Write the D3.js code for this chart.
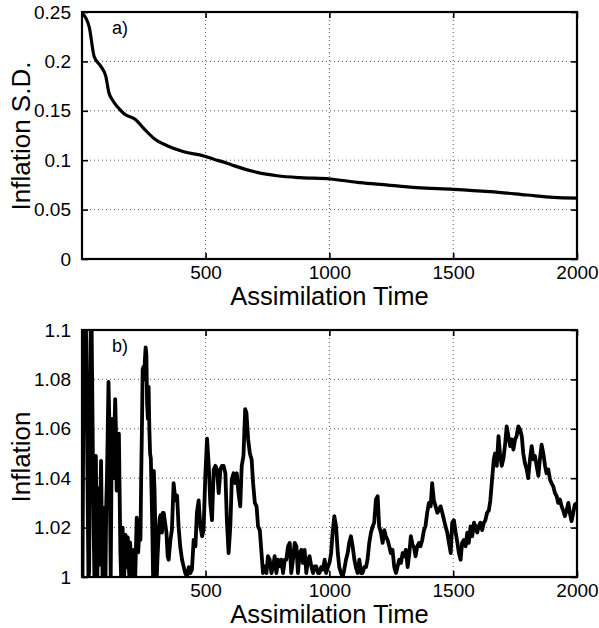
<!DOCTYPE html>
<html>
<head>
<meta charset="utf-8">
<script src="https://cdn.jsdelivr.net/npm/d3@7/dist/d3.min.js"></script>
<style>
  html, body { margin: 0; padding: 0; background: #fff; }
  svg { display: block; }
  text { font-family: "Liberation Sans", Arial, Helvetica, sans-serif; fill: #000; }
</style>
</head>
<body>
<svg id="chart" width="599" height="628"></svg>
<script>
// ---------- DATA ----------
// Panel a) Inflation S.D. vs assimilation time
const sdTime  = [1, 30, 50, 77, 97, 110, 124, 144, 171, 218, 251, 292, 345, 412, 493, 533, 587, 614, 708, 789, 883, 1004, 1112, 1206, 1354, 1501, 1649, 1797, 1904, 2000];
const sdValue = [0.249, 0.235, 0.205, 0.195, 0.185, 0.168, 0.161, 0.154, 0.147, 0.141, 0.132, 0.122, 0.1147, 0.1086, 0.1043, 0.101, 0.097, 0.0945, 0.0877, 0.0843, 0.0823, 0.081, 0.0776, 0.0756, 0.0722, 0.0705, 0.0681, 0.0648, 0.0624, 0.0616];

// Panel b) Inflation vs assimilation time
const infTime = [
  1, 3, 6, 9, 12, 15, 18, 21, 24, 27, 30, 33, 36, 39, 42, 45, 48, 51, 54, 57, 60, 63, 66, 69, 72, 75, 78, 81, 84, 87, 90, 93, 96, 99,
  102, 105, 108, 111, 114, 117, 120, 123, 126, 129, 132, 135, 138, 141, 144, 147, 150, 153, 156, 159, 162, 165, 168, 171, 174, 177,
  180, 183, 186, 189, 192, 195, 198, 201, 204, 207, 210, 213, 216, 219, 222, 225, 228, 231, 234, 237, 240, 243, 246, 249, 252, 255,
  258, 261, 264, 267, 270, 273, 276, 279, 282, 285, 288, 291, 294, 297, 300, 303, 306, 309, 312, 315, 318, 321, 324, 327,
  331, 342, 347, 351, 358, 364, 371, 378, 385, 391, 398, 405, 412, 418, 425, 432, 438, 445, 452, 459, 465, 472, 479, 486, 492, 499,
  506, 513, 519, 526, 533, 540, 546, 553, 560, 566, 573, 580, 586, 593, 600, 606, 613, 620, 626, 633, 640, 646, 653, 660,
  665, 672, 679, 686, 692, 699, 706, 712, 719, 726, 732, 739, 746, 752, 759, 766, 773, 779, 786, 793, 800, 806, 813, 820, 826, 833,
  840, 846, 853, 860, 867, 873, 880, 887, 893, 900, 907, 913, 920, 927, 934, 940, 947, 954, 960, 967, 974, 981, 987, 994,
  1001, 1007, 1013, 1020, 1027, 1034, 1040, 1047, 1054, 1060, 1067, 1074, 1080, 1087, 1094, 1101, 1107, 1114, 1121, 1128, 1134, 1141,
  1148, 1154, 1161, 1168, 1175, 1181, 1188, 1195, 1201, 1208, 1215, 1222, 1228, 1235, 1242, 1248, 1255, 1262, 1269, 1275, 1282, 1289,
  1296, 1302, 1309, 1316, 1323, 1329,
  1336, 1342, 1348, 1355, 1362, 1368, 1375, 1382, 1388, 1395, 1402, 1409, 1415, 1422, 1429, 1436, 1442, 1449, 1456, 1463, 1469, 1476,
  1483, 1490, 1496, 1503, 1510, 1517, 1523, 1530, 1536, 1543, 1550, 1557, 1563, 1570, 1577, 1584, 1590, 1597, 1603, 1610, 1617, 1624,
  1630, 1637, 1644, 1650, 1657, 1664,
  1669, 1676, 1683, 1689, 1696, 1703, 1710, 1716, 1723, 1730, 1736, 1743, 1750, 1756, 1763, 1770, 1777, 1783, 1790, 1797, 1803, 1810,
  1817, 1824, 1830, 1837, 1844, 1850, 1857, 1864, 1871, 1877, 1884, 1891, 1897, 1904, 1911, 1918, 1924, 1931, 1938, 1944, 1951, 1958,
  1965, 1971, 1978, 1985, 1991, 2000
];
const infValue = [
  1.010, 1.000, 1.060, 1.085, 1.100, 1.110, 1.095, 1.065, 1.030, 1.000, 1.002, 1.060, 1.100, 1.110, 1.080, 1.048, 1.020, 1.000, 1.030, 1.049,
  1.015, 1.000, 1.025, 1.036, 1.005, 1.030, 1.047, 1.020, 1.000, 1.015, 1.028, 1.010, 1.000, 1.030,
  1.041, 1.060, 1.079, 1.065, 1.030, 1.000, 1.040, 1.064, 1.045, 1.040, 1.060, 1.072, 1.060, 1.035, 1.054, 1.045, 1.058, 1.034, 1.010, 1.000,
  1.012, 1.020, 1.008, 1.000, 1.006, 1.017,
  1.010, 1.004, 1.016, 1.007, 1.000, 1.014, 1.010, 1.002, 1.000, 1.008, 1.011, 1.004, 1.000, 1.012, 1.024, 1.016, 1.010, 1.016, 1.023, 1.015,
  1.040, 1.060, 1.084, 1.085, 1.080, 1.088,
  1.093, 1.090, 1.070, 1.064, 1.077, 1.060, 1.050, 1.048, 1.034, 1.020, 1.000, 1.043, 1.035, 1.020, 1.005, 1.000, 1.008, 1.014, 1.020, 1.024,
  1.025, 1.020, 1.018, 1.026,
  1.026, 1.018, 1.0084, 1.007, 1.015, 1.019, 1.038, 1.031, 1.033, 1.0205, 1.012, 1.007, 1.004, 1.0016, 1.000, 1.004, 1.0016, 1.003, 1.015,
  1.0124, 1.026, 1.031, 1.0205, 1.0165, 1.019, 1.041,
  1.056, 1.045, 1.030, 1.023, 1.0435, 1.045, 1.0435, 1.034, 1.0435, 1.045, 1.045, 1.042, 1.023, 1.0097, 1.0205, 1.0395, 1.042, 1.038, 1.042,
  1.034, 1.0286, 1.045, 1.049, 1.068,
  1.0665, 1.0557, 1.050, 1.0476, 1.038, 1.030, 1.0286, 1.0205, 1.019, 1.0097, 1.0016, 1.0043, 1.0016, 1.0084, 1.007, 1.0016, 1.0043, 1.0084,
  1.0016, 1.007, 1.0043, 1.007, 1.0016, 1.007, 1.007, 1.0124,
  1.0138, 1.0016, 1.007, 1.0138, 1.0124, 1.0016, 1.0097, 1.011, 1.0057, 1.011, 1.0016, 1.007, 1.0084, 1.0043, 1.0016, 1.0043, 1.0043, 1.0016,
  1.0016, 1.004, 1.003, 1.007, 1.0016, 1.004,
  1.006, 1.0097, 1.018, 1.0246, 1.0205, 1.0097, 1.004, 1.0016, 1.000, 1.003, 1.007, 1.0097, 1.0138, 1.0165, 1.0124, 1.007, 1.004, 1.0016,
  1.007, 1.0016, 1.0016, 1.004,
  1.004, 1.007, 1.0138, 1.018, 1.0205, 1.022, 1.0314, 1.0327, 1.0205, 1.018, 1.0138, 1.019, 1.0165, 1.015, 1.0124, 1.0097, 1.011, 1.004,
  1.0016, 1.004, 1.007, 1.0057,
  1.0097, 1.0084, 1.011, 1.004, 1.0097, 1.0165,
  1.013, 1.012, 1.0084, 1.0124, 1.0138, 1.0124, 1.015, 1.019, 1.0205, 1.026, 1.030, 1.0286, 1.038, 1.031, 1.0286, 1.026, 1.027, 1.0286,
  1.026, 1.023, 1.0205, 1.018,
  1.0138, 1.0097, 1.022, 1.023, 1.018, 1.0138, 1.0097, 1.007, 1.0138, 1.015, 1.0124, 1.018, 1.0138, 1.0205, 1.0165, 1.022, 1.0205, 1.018,
  1.0205, 1.022, 1.019, 1.022,
  1.023, 1.026, 1.027, 1.031, 1.0395, 1.0476,
  1.050, 1.045, 1.057, 1.050, 1.045, 1.048, 1.054, 1.061, 1.057, 1.053, 1.0557, 1.0516, 1.0557, 1.057, 1.061, 1.0597, 1.057, 1.050, 1.046,
  1.0435, 1.040, 1.0476,
  1.053, 1.0476, 1.049, 1.045, 1.041, 1.0476, 1.0536, 1.050, 1.045, 1.042, 1.0435, 1.0395, 1.038, 1.0367, 1.034, 1.0327, 1.030, 1.0314,
  1.0286, 1.027, 1.0246, 1.027,
  1.030, 1.026, 1.0226, 1.026, 1.0293, 1.030
];

const xTicks = [500, 1000, 1500, 2000];
const sdTicks = [0, 0.05, 0.1, 0.15, 0.2, 0.25];
const infTicks = [1, 1.02, 1.04, 1.06, 1.08, 1.1];
const sdTickLabels = ["0", "0.05", "0.1", "0.15", "0.2", "0.25"];
const infTickLabels = ["1", "1.02", "1.04", "1.06", "1.08", "1.1"];

// ---------- DRAWING ----------
const svg = d3.select("#chart");
const L = 82, R = 577;

function panel(opts) {
  const { top, bottom, yDomain, yTicks, yLabels, xs, ys, yTitle, yTitleCenter, tag, lw, id, curve } = opts;
  const x = d3.scaleLinear().domain([1, 2000]).range([L, R]);
  const y = d3.scaleLinear().domain(yDomain).range([bottom, top]);
  const g = svg.append("g");

  // grid
  g.append("g").selectAll("line").data(xTicks.filter(t => t < 2000)).join("line")
    .attr("x1", d => x(d)).attr("x2", d => x(d)).attr("y1", top).attr("y2", bottom)
    .attr("stroke", "#555").attr("stroke-width", 1).attr("stroke-dasharray", "1,3");
  g.append("g").selectAll("line").data(yTicks.slice(1, -1)).join("line")
    .attr("x1", L).attr("x2", R).attr("y1", d => y(d)).attr("y2", d => y(d))
    .attr("stroke", "#555").attr("stroke-width", 1).attr("stroke-dasharray", "1,3");

  // data line
  svg.append("clipPath").attr("id", id).append("rect")
    .attr("x", L).attr("y", top).attr("width", R - L).attr("height", bottom - top);
  const data = xs.map((t, i) => [t, ys[i]]);
  g.append("path").datum(data)
    .attr("clip-path", `url(#${id})`)
    .attr("fill", "none").attr("stroke", "#000").attr("stroke-width", lw)
    .attr("stroke-linejoin", "round").attr("stroke-linecap", "round")
    .attr("d", d3.line().curve(curve).x(d => x(d[0])).y(d => y(d[1])));

  // axes (bottom & left with labels, inner ticks)
  const xb = d3.axisBottom(x).tickValues(xTicks).tickSize(-6).tickPadding(14)
    .tickFormat(d3.format("d"));
  const gx = g.append("g").attr("transform", `translate(0,${bottom})`).call(xb);
  const yl = d3.axisLeft(y).tickValues(yTicks).tickSize(-6).tickPadding(11)
    .tickFormat((d, i) => yLabels[i]);
  const gy = g.append("g").attr("transform", `translate(${L},0)`).call(yl);
  // mirrored ticks on top & right
  const xt = d3.axisTop(x).tickValues(xTicks).tickSize(-6).tickFormat("");
  const gxt = g.append("g").attr("transform", `translate(0,${top})`).call(xt);
  const yr = d3.axisRight(y).tickValues(yTicks).tickSize(-6).tickFormat("");
  const gyr = g.append("g").attr("transform", `translate(${R},0)`).call(yr);
  [gx, gy, gxt, gyr].forEach(a => {
    a.select(".domain").remove();
    a.selectAll(".tick line").attr("stroke", "#000").attr("stroke-width", 1.6);
    a.selectAll("text").attr("font-size", 19)
      .attr("font-family", '"Liberation Sans", Arial, Helvetica, sans-serif').attr("fill", "#000");
  });
  gx.selectAll(".tick text").attr("dy", "0.32em");

  // box
  g.append("rect").attr("x", L).attr("y", top).attr("width", R - L).attr("height", bottom - top)
    .attr("fill", "none").attr("stroke", "#000").attr("stroke-width", 2.2);

  // titles
  g.append("text").attr("x", (L + R) / 2).attr("y", bottom + 46)
    .attr("text-anchor", "middle").attr("font-size", 25.5).text("Assimilation Time");
  g.append("text").attr("transform", `translate(30,${yTitleCenter}) rotate(-90)`)
    .attr("text-anchor", "middle").attr("font-size", 26).text(yTitle);
  g.append("text").attr("x", 112).attr("y", top + 22)
    .attr("font-family", '"Liberation Serif", "Times New Roman", serif').attr("font-size", 18).text(tag);
}

panel({ top: 12, bottom: 259, yDomain: [0, 0.25], yTicks: sdTicks, yLabels: sdTickLabels,
  xs: sdTime, ys: sdValue, yTitle: "Inflation S.D.", yTitleCenter: 136, tag: "a)", lw: 3.2, id: "clipA",
  curve: d3.curveMonotoneX });
panel({ top: 330, bottom: 577, yDomain: [1, 1.1], yTicks: infTicks, yLabels: infTickLabels,
  xs: infTime, ys: infValue, yTitle: "Inflation", yTitleCenter: 457, tag: "b)", lw: 3.8, id: "clipB",
  curve: d3.curveLinear });
</script>
</body>
</html>
